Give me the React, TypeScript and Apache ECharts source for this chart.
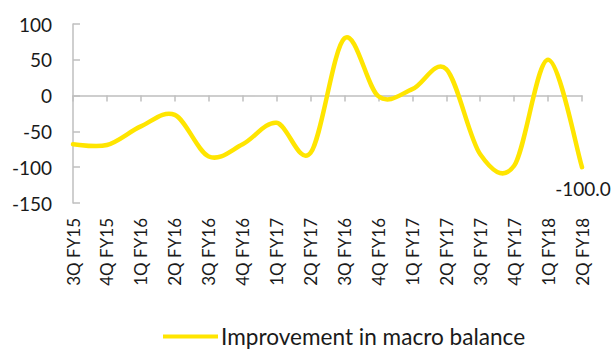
import React, { useEffect, useRef } from "react";
import * as echarts from "echarts";

const categories = [
  "3Q FY15", "4Q FY15", "1Q FY16", "2Q FY16", "3Q FY16", "4Q FY16",
  "1Q FY17", "2Q FY17", "3Q FY16", "4Q FY16", "1Q FY17", "2Q FY17",
  "3Q FY17", "4Q FY17", "1Q FY18", "2Q FY18",
];
const macroBalance = [-68, -69, -43, -27, -85, -68, -38, -80, 80, -1, 9, 37, -82, -98, 50, -100];
const seriesName = "Improvement in macro balance";
const yTicks = { min: -150, max: 100, interval: 50 };

const FONT = "Lato, 'Open Sans', sans-serif";
const TEXT = "#1a1a1a";
const AXIS = "#bfbfbf";
const YELLOW = "#ffe500";
// Catmull-Rom style control-point factor for the smoothed curve
const TENSION = 1 / 6;

export default function App() {
  const ref = useRef<HTMLDivElement>(null);
  useEffect(() => {
    if (!ref.current) return;
    const chart = echarts.init(ref.current, null, { renderer: "svg" });
    const last = macroBalance.length - 1;

    const renderItem = (params: any, api: any) => {
      const idx = params.dataIndex;
      if (idx === 0) {
        const pts = macroBalance.map((v, k) => api.coord([k, v]));
        let d = `M${pts[0][0]},${pts[0][1]}`;
        for (let k = 0; k < pts.length - 1; k++) {
          const p0 = pts[k - 1] || pts[k];
          const p1 = pts[k];
          const p2 = pts[k + 1];
          const p3 = pts[k + 2] || pts[k + 1];
          const c1x = p1[0] + (p2[0] - p0[0]) * TENSION;
          const c1y = p1[1] + (p2[1] - p0[1]) * TENSION;
          const c2x = p2[0] - (p3[0] - p1[0]) * TENSION;
          const c2y = p2[1] - (p3[1] - p1[1]) * TENSION;
          d += ` C${c1x},${c1y} ${c2x},${c2y} ${p2[0]},${p2[1]}`;
        }
        return {
          type: "path",
          shape: { pathData: d },
          style: { fill: "none", stroke: YELLOW, lineWidth: 4.5, lineCap: "round", lineJoin: "round" },
        };
      }
      if (idx === last) {
        const p = api.coord([idx, api.value(1)]);
        return {
          type: "text",
          x: p[0] + 1,
          y: p[1] + 12,
          style: {
            text: Number(api.value(1)).toFixed(1),
            fontSize: 19,
            fontFamily: FONT,
            fill: TEXT,
            align: "center",
            verticalAlign: "top",
          },
        };
      }
      return null;
    };

    chart.setOption({
      animation: false,
      textStyle: { fontFamily: FONT },
      grid: { left: 73, right: 31, top: 24, bottom: 146, containLabel: false },
      legend: {
        data: [{ name: seriesName, icon: "rect" }],
        left: 163,
        top: 325,
        padding: 0,
        itemWidth: 55,
        itemHeight: 4,
        itemGap: 6,
        textStyle: {
          fontFamily: FONT,
          fontSize: 22.6,
          lineHeight: 22,
          color: TEXT,
          padding: [0, 0, 0, -2],
        },
      },
      xAxis: [
        {
          type: "category",
          data: categories,
          boundaryGap: false,
          axisLine: { onZero: true, lineStyle: { color: AXIS, width: 1.5 } },
          axisTick: { show: true, length: 6, interval: 0, lineStyle: { color: AXIS, width: 1.5 } },
          axisLabel: { show: false },
          splitLine: { show: false },
        },
        {
          type: "category",
          data: categories,
          boundaryGap: false,
          position: "bottom",
          axisLine: { show: false, onZero: false },
          axisTick: { show: false },
          axisLabel: {
            interval: 0,
            rotate: 90,
            margin: 15,
            fontSize: 17,
            fontFamily: FONT,
            color: TEXT,
          },
        },
      ],
      yAxis: {
        type: "value",
        min: yTicks.min,
        max: yTicks.max,
        interval: yTicks.interval,
        axisLine: { show: true, lineStyle: { color: AXIS, width: 1.5 } },
        axisTick: { show: true, inside: true, length: 7, lineStyle: { color: AXIS, width: 1.5 } },
        axisLabel: { margin: 21, fontSize: 19, fontFamily: FONT, color: TEXT },
        splitLine: { show: false },
      },
      series: [
        {
          name: seriesName,
          type: "custom",
          xAxisIndex: 0,
          yAxisIndex: 0,
          clip: false,
          data: macroBalance.map((v, i) => [i, v]),
          encode: { x: 0, y: 1 },
          renderItem,
          itemStyle: { color: YELLOW },
          emphasis: { disabled: true },
        },
      ],
    });
    return () => chart.dispose();
  }, []);
  return <div ref={ref} style={{ width: 613, height: 349, position: "absolute", left: 0, top: 0 }} />;
}
